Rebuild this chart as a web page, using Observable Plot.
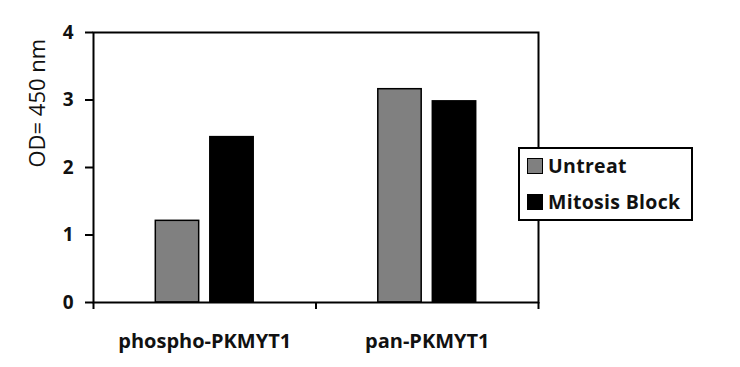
<!DOCTYPE html>
<html>
<head>
<meta charset="utf-8">
<script src="https://cdn.jsdelivr.net/npm/d3@7"></script>
<script src="https://cdn.jsdelivr.net/npm/@observablehq/plot@0.6"></script>
<style>
  html, body { margin: 0; padding: 0; background: #fff; }
  #wrap { position: relative; width: 740px; height: 367px; }
  #legend {
    position: absolute; left: 518px; top: 147px; width: 171px; height: 70px;
    border: 2px solid #000; background: #fff; box-sizing: content-box;
    font-family: "Open Sans", Lato, sans-serif; font-weight: bold; font-size: 19.5px; letter-spacing: 0.3px; color: #111;
  }
  .li { position: absolute; left: 7px; display: flex; align-items: center; line-height: 20px; }
  .sw { width: 14px; height: 14px; border: 1.5px solid #000; margin-right: 5px; }
</style>
</head>
<body>
<div id="wrap"><div id="chart"></div><div id="legend"></div></div>
<script>
const categories = ["phospho-PKMYT1", "pan-PKMYT1"];
const series = ["Untreat", "Mitosis Block"];
const untreat = [1.21, 3.16];
const mitosisBlock = [2.45, 2.98];
const yTicks = [0, 1, 2, 3, 4];
const colors = ["#808080", "#000000"];
const yLabel = "OD= 450 nm";

const seriesValues = [untreat, mitosisBlock];
const rows = [];
categories.forEach((c, ci) => series.forEach((s, si) => rows.push({cat: c, ci, series: s, si, value: seriesValues[si][ci]})));

// layout constants (fraction of a category slot)
const barW = 0.195, gap = 0.05;
const font = "'Open Sans', Lato, sans-serif";

const plot = Plot.plot({
  width: 740,
  height: 367,
  marginLeft: 93,
  marginRight: 202,
  marginTop: 32,
  marginBottom: 65,
  style: {fontFamily: font, background: "#fff"},
  x: {type: "linear", domain: [-0.5, categories.length - 0.5]},
  y: {domain: [0, 4]},
  color: {domain: series, range: colors},
  marks: [
    Plot.rectY(rows, {
      x1: d => d.ci - gap / 2 - barW + d.si * (barW + gap),
      x2: d => d.ci - gap / 2 + d.si * (barW + gap),
      y: "value",
      fill: "series",
      stroke: "#000",
      strokeWidth: 1.5
    }),
    Plot.frame({stroke: "#000", strokeWidth: 2}),
    Plot.axisY({ticks: yTicks, tickSize: 8, tickPadding: 12, tickFormat: d => String(d), label: null,
      fontSize: 19, fontWeight: "bold", stroke: "#000", strokeWidth: 2, fill: "#111"}),
    Plot.axisX({ticks: [-0.5, 0.5, 1.5], tickSize: 7, tickFormat: () => "", label: null, stroke: "#000", strokeWidth: 2}),
    Plot.axisX({ticks: categories.map((c, i) => i), tickSize: 0, tickPadding: 31, tickFormat: i => categories[i],
      label: null, fontSize: 20, fontWeight: "bold", fill: "#111", style: {letterSpacing: "0.5px"}}),
    Plot.text([yLabel], {frameAnchor: "left", rotate: -90, dx: -56, fontSize: 22, fill: "#111",
      style: {letterSpacing: "1.5px"}})
  ]
});
document.getElementById("chart").appendChild(plot);

const legend = document.getElementById("legend");
series.forEach((s, i) => {
  const item = document.createElement("div");
  item.className = "li";
  item.style.top = (i === 0 ? 7 : 43) + "px";
  const sw = document.createElement("div");
  sw.className = "sw";
  sw.style.background = colors[i];
  const t = document.createElement("span");
  t.textContent = s;
  item.appendChild(sw); item.appendChild(t);
  legend.appendChild(item);
});
</script>
</body>
</html>
